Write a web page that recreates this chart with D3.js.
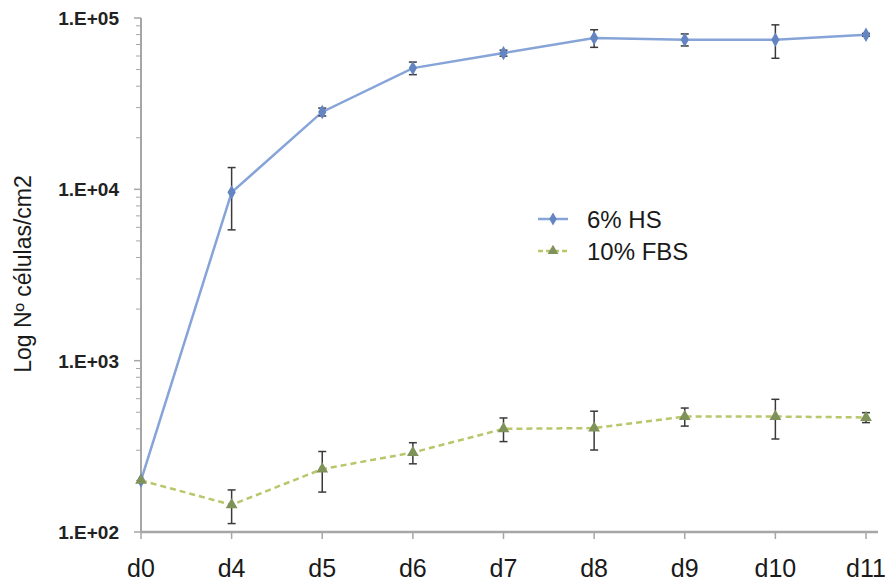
<!DOCTYPE html>
<html><head><meta charset="utf-8">
<script src="https://cdn.jsdelivr.net/npm/d3@7/dist/d3.min.js"></script>
<style>body{margin:0;background:#fff;} svg{display:block;font-family:"Liberation Sans",Arial,sans-serif;}</style>
</head><body>
<script>
const days = ["d0","d4","d5","d6","d7","d8","d9","d10","d11"];
const hsMean = [200, 9600, 28300, 51000, 62400, 76400, 74700, 74700, 79800];
const hsErr  = [0, 3800, 1500, 4300, 2500, 9000, 6000, 16500, 1500];
const fbsMean = [200, 144, 233, 291, 400, 404, 472, 472, 466];
const fbsErr  = [0, 32, 62, 41, 63, 103, 57, 123, 31];
const yTicks = [100, 1000, 10000, 100000];
const yTickLabels = ["1.E+02","1.E+03","1.E+04","1.E+05"];
const seriesNames = ["6% HS","10% FBS"];

const W = 887, H = 583;
const svg = d3.select("body").append("svg").attr("width", W).attr("height", H);
const x = d3.scalePoint().domain(days).range([141, 866]).padding(0);
const y = d3.scaleLog().domain([100, 100000]).range([532, 18]);

const axisColor = "#a6a6a6";
const minor = [];
for (let d = 100; d < 100000; d *= 10) for (let k = 2; k <= 9; k++) minor.push(d * k);
svg.append("g").selectAll("line").data(minor).join("line")
  .attr("x1", 136).attr("x2", 141).attr("y1", d => y(d)).attr("y2", d => y(d))
  .attr("stroke", axisColor).attr("stroke-width", 1);
svg.append("g").selectAll("line").data(yTicks).join("line")
  .attr("x1", 134).attr("x2", 141).attr("y1", d => y(d)).attr("y2", d => y(d))
  .attr("stroke", axisColor).attr("stroke-width", 1.5);
svg.append("line").attr("x1", 141).attr("x2", 141).attr("y1", y(100000)).attr("y2", y(100))
  .attr("stroke", axisColor).attr("stroke-width", 2);
svg.append("line").attr("x1", 141).attr("x2", 878).attr("y1", y(100)).attr("y2", y(100))
  .attr("stroke", axisColor).attr("stroke-width", 2.5);
svg.append("g").selectAll("line").data(days).join("line")
  .attr("x1", d => x(d)).attr("x2", d => x(d)).attr("y1", 532).attr("y2", 539)
  .attr("stroke", axisColor).attr("stroke-width", 1.5);

svg.append("g").selectAll("text").data(yTicks).join("text")
  .attr("x", 119).attr("y", d => y(d)).attr("dy", "0.36em").attr("text-anchor", "end")
  .attr("font-size", 19).attr("font-weight", "bold").attr("fill", "#222")
  .text((d, i) => yTickLabels[i]);
svg.append("g").selectAll("text").data(days).join("text")
  .attr("x", d => x(d)).attr("y", 577).attr("text-anchor", "middle")
  .attr("font-size", 25).attr("fill", "#1a1a1a").text(d => d);
svg.append("text").attr("transform", "translate(31,274) rotate(-90)")
  .attr("text-anchor", "middle").attr("font-size", 23).attr("fill", "#1a1a1a")
  .text("Log Nº células/cm2");

function drawSeries(mean, err, color, markColor, dash, shape) {
  const pts = days.map((d, i) => ({d, v: mean[i], e: err[i]}));
  const line = d3.line().x(p => x(p.d)).y(p => y(p.v));
  svg.append("path").datum(pts).attr("d", line).attr("fill", "none")
    .attr("stroke", color).attr("stroke-width", 2.5)
    .attr("stroke-dasharray", dash ? "6,4" : null);
  const eb = svg.append("g").selectAll("g").data(pts.filter(p => p.e > 0)).join("g")
    .attr("stroke", "#3a3a3a").attr("stroke-width", 1.5);
  eb.append("line").attr("x1", p => x(p.d)).attr("x2", p => x(p.d))
    .attr("y1", p => y(p.v + p.e)).attr("y2", p => y(p.v - p.e));
  eb.append("line").attr("x1", p => x(p.d) - 4).attr("x2", p => x(p.d) + 4)
    .attr("y1", p => y(p.v + p.e)).attr("y2", p => y(p.v + p.e));
  eb.append("line").attr("x1", p => x(p.d) - 4).attr("x2", p => x(p.d) + 4)
    .attr("y1", p => y(p.v - p.e)).attr("y2", p => y(p.v - p.e));
  svg.append("g").selectAll("path").data(pts).join("path")
    .attr("transform", p => `translate(${x(p.d)},${y(p.v)})`)
    .attr("d", d3.symbol().type(shape).size(60)).attr("fill", markColor);
}
drawSeries(hsMean, hsErr, "#86a4d8", "#6485c2", false, d3.symbolDiamond);
drawSeries(fbsMean, fbsErr, "#b9c66a", "#7f925a", true, d3.symbolTriangle);

const lg = svg.append("g");
const ly = [219, 251];
const lcol = ["#86a4d8", "#b9c66a"], lmk = ["#6485c2", "#7f925a"];
const lshape = [d3.symbolDiamond, d3.symbolTriangle];
seriesNames.forEach((n, i) => {
  lg.append("line").attr("x1", 538).attr("x2", 568).attr("y1", ly[i]).attr("y2", ly[i])
    .attr("stroke", lcol[i]).attr("stroke-width", 2.5).attr("stroke-dasharray", i ? "5,3" : null);
  lg.append("path").attr("transform", `translate(553,${ly[i]})`)
    .attr("d", d3.symbol().type(lshape[i]).size(50)).attr("fill", lmk[i]);
  lg.append("text").attr("x", 587).attr("y", ly[i]).attr("dy", "0.36em")
    .attr("font-size", 24).attr("fill", "#1a1a1a").text(n);
});
</script>
</body></html>
